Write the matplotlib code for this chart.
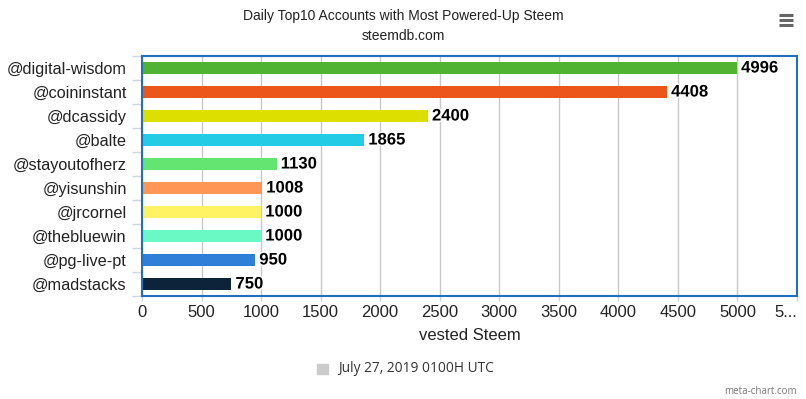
import matplotlib.pyplot as plt
import matplotlib.patheffects as pe
from matplotlib.lines import Line2D

# data
accounts = ['@digital-wisdom', '@coininstant', '@dcassidy', '@balte', '@stayoutofherz',
            '@yisunshin', '@jrcornel', '@thebluewin', '@pg-live-pt', '@madstacks']
powered_up = [4996, 4408, 2400, 1865, 1130, 1008, 1000, 1000, 950, 750]
bar_colors = ['#50B432', '#ED561B', '#DDDF00', '#24CBE5', '#64E572',
              '#FF9655', '#FFF263', '#6AF9C4', '#2f7ed8', '#0d233a']
x_ticks = [0, 500, 1000, 1500, 2000, 2500, 3000, 3500, 4000, 4500, 5000, 5500]
x_tick_labels = ['0', '500', '1000', '1500', '2000', '2500', '3000', '3500',
                 '4000', '4500', '5000', '5...']
series_name = 'July 27, 2019 0100H UTC'

plt.rcParams['font.family'] = ['Liberation Sans', 'DejaVu Sans']

fig = plt.figure(figsize=(8.06, 3.99), dpi=100)
ax = fig.add_axes([142 / 806, 1 - 296 / 399, (797 - 142) / 806, (296 - 56) / 399])

pos = list(range(len(accounts)))
ax.barh(pos, powered_up, height=0.46, color=bar_colors, zorder=3)

for p, v in zip(pos, powered_up):
    ax.annotate(str(v), (v, p), xytext=(3, 0), textcoords='offset points',
                va='center', ha='left', fontsize=12, fontweight='bold', color='black',
                path_effects=[pe.withStroke(linewidth=2, foreground='white')], zorder=4)

ax.set_xlim(0, 5500)
ax.set_ylim(len(accounts) - 0.5, -0.5)

ax.set_xticks(x_ticks)
ax.set_xticklabels(x_tick_labels)
ax.get_xticklabels()[-1].set_ha('right')
ax.tick_params(axis='x', length=3.6, width=1, color='#ccd6eb', labelsize=12,
               labelcolor='#222222', pad=3)
ax.grid(axis='x', color='#c8c8c8', linewidth=1, zorder=0)

ax.set_yticks(pos)
ax.set_yticklabels(accounts)
ax.set_yticks([p + 0.5 for p in pos[:-1]] + [-0.5, len(accounts) - 0.5], minor=True)
ax.tick_params(axis='y', which='major', length=0, labelsize=11.7, labelcolor='#222222', pad=11)
ax.tick_params(axis='y', which='minor', length=7.2, width=1, color='#ccd6eb')

for s in ax.spines.values():
    s.set_color('#1f70c1')
    s.set_linewidth(1.5)
    s.set_zorder(5)

ax.set_xlabel('vested Steem', fontsize=12, color='#222222', labelpad=6)

fig.text(0.5, 1 - 16 / 399, 'Daily Top10 Accounts with Most Powered-Up Steem',
         ha='center', va='center', fontsize=10, color='#222222')
fig.text(0.5, 1 - 36 / 399, 'steemdb.com', ha='center', va='center',
         fontsize=10, color='#222222')

# legend
fig.patches.append(plt.Rectangle((317 / 806, 1 - 374 / 399), 11 / 806, 10 / 399,
                                 transform=fig.transFigure, color='#cccccc'))
fig.text(338 / 806, 1 - 368 / 399, series_name, ha='left', va='center',
         fontsize=9.9, color='#333333', family=['Open Sans', 'DejaVu Sans'])

fig.text(797 / 806, 1 - 391 / 399, 'meta-chart.com', ha='right', va='center',
         fontsize=7, color='#777777', family=['Open Sans', 'DejaVu Sans'])

# menu icon
for yy in (15, 20, 25):
    fig.add_artist(Line2D([779 / 806, 793 / 806], [1 - yy / 399, 1 - yy / 399],
                          transform=fig.transFigure, color='#666666', linewidth=2.2,
                          solid_capstyle='butt'))

fig.savefig('out.png', dpi=100, facecolor='white')
